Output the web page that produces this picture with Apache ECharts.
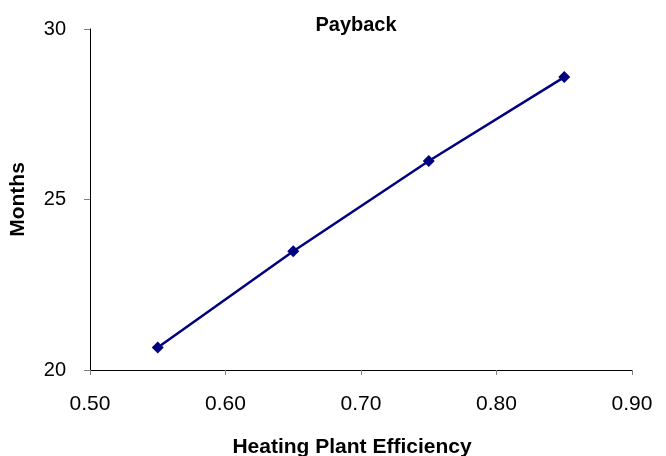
<!DOCTYPE html>
<html>
<head>
<meta charset="utf-8">
<script src="https://cdn.jsdelivr.net/npm/echarts@6/dist/echarts.min.js"></script>
<style>
  html, body { margin: 0; padding: 0; background: #fff; }
  #chart { width: 666px; height: 456px; }
</style>
</head>
<body>
<div id="chart"></div>
<script>
// Payback period versus heating plant efficiency
const efficiency = [0.55, 0.65, 0.75, 0.85];
const months = [20.66, 23.48, 26.13, 28.59];
const xTicks = [0.50, 0.60, 0.70, 0.80, 0.90];
const yTicks = [20, 25, 30];

const chart = echarts.init(document.getElementById('chart'));
const font = 'Liberation Sans, Arial, sans-serif';

chart.setOption({
  animation: false,
  backgroundColor: '#ffffff',
  title: [
    { text: 'Payback', left: 351, top: 10, textAlign: 'center',
      textStyle: { fontFamily: font, fontSize: 20, fontWeight: 'bold', color: '#000' } },
    { text: 'Heating Plant Efficiency', left: 347, top: 432, textAlign: 'center',
      textStyle: { fontFamily: font, fontSize: 21, fontWeight: 'bold', color: '#000' } }
  ],
  grid: { left: 90, right: 34, top: 29, bottom: 86, containLabel: false },
  xAxis: {
    type: 'value',
    min: xTicks[0], max: xTicks[xTicks.length - 1], interval: 0.1,
    axisLine: { show: true, lineStyle: { color: '#000', width: 1 } },
    axisTick: { show: true, length: 5, lineStyle: { color: '#808080' } },
    splitLine: { show: false },
    axisLabel: { fontFamily: font, fontSize: 21, color: '#000', margin: 24,
      formatter: v => v.toFixed(2) }
  },
  yAxis: {
    type: 'value',
    min: yTicks[0], max: yTicks[yTicks.length - 1], interval: 5,
    name: 'Months', nameLocation: 'middle', nameGap: 61, nameRotate: 90,
    nameTextStyle: { fontFamily: font, fontSize: 21, fontWeight: 'bold', color: '#000' },
    axisLine: { show: true, lineStyle: { color: '#000', width: 1 } },
    axisTick: { show: true, length: 6, lineStyle: { color: '#808080' } },
    splitLine: { show: false },
    axisLabel: { fontFamily: font, fontSize: 20, color: '#000', margin: 24 }
  },
  series: [{
    type: 'line',
    data: efficiency.map((x, i) => [x, months[i]]),
    symbol: 'diamond',
    symbolSize: 12,
    showAllSymbol: true,
    lineStyle: { color: '#000080', width: 2.5 },
    itemStyle: { color: '#000080' }
  }]
});
</script>
</body>
</html>
